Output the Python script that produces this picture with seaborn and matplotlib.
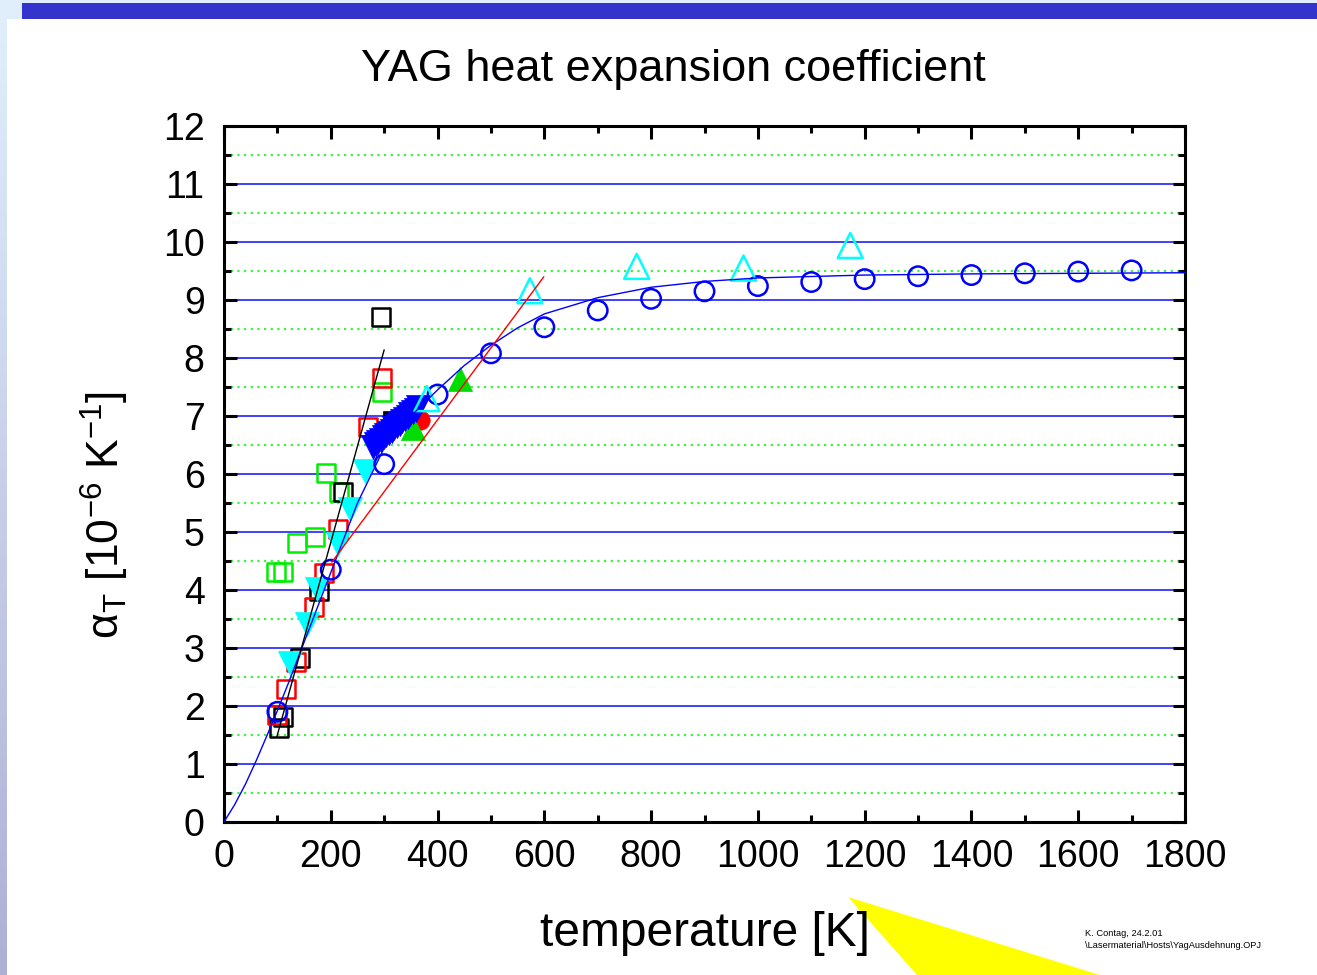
import numpy as np
import pandas as pd
import matplotlib
matplotlib.use("Agg")
import matplotlib.pyplot as plt
from matplotlib.patches import Polygon, Rectangle
from matplotlib.ticker import MultipleLocator
import seaborn as sns

# ---------------- data ----------------
circ_T = [100, 200, 300, 400, 500, 600, 700, 800, 900, 1000, 1100, 1200, 1300, 1400, 1500, 1600, 1700]
circ_a = [1.9, 4.35, 6.17, 7.37, 8.08, 8.53, 8.82, 9.02, 9.15, 9.24, 9.31, 9.36, 9.41, 9.43, 9.46, 9.49, 9.51]

tri_open_T = [380, 573, 773, 973, 1173]
tri_open_a = [7.30, 9.16, 9.58, 9.55, 9.94]

sq_green_T = [97, 111, 137, 170, 191, 215, 296]
sq_green_a = [4.31, 4.31, 4.81, 4.91, 6.02, 5.69, 7.41]

sq_red_T = [99, 116, 135, 169, 188, 214, 270, 296]
sq_red_a = [1.84, 2.29, 2.76, 3.71, 4.29, 5.05, 6.81, 7.65]

sq_black_T = [103, 110, 142, 178, 223, 294]
sq_black_a = [1.62, 1.81, 2.83, 3.98, 5.69, 8.71]

tri_cyan_T = [124, 155, 174, 213, 236, 264]
tri_cyan_a = [2.75, 3.41, 4.02, 4.80, 5.39, 6.06]

tri_blue_T = [279, 284, 289, 294, 299, 304, 309, 314, 319, 324, 329, 334, 339, 344, 349, 354, 359, 364]
tri_blue_a = [6.47, 6.51, 6.55, 6.59, 6.63, 6.67, 6.71, 6.75, 6.79, 6.83, 6.87, 6.91, 6.95, 6.99, 7.03, 7.07, 7.11, 7.16]

sq_black_fill_T = [315]
sq_black_fill_a = [6.93]

circ_red_fill_T = [367]
circ_red_fill_a = [6.93]

tri_green_fill_T = [354, 442]
tri_green_fill_a = [6.80, 7.63]

fit_blue_T = [0, 20, 40, 60, 80, 100, 120, 150, 200, 250, 300, 350, 400, 450, 500, 550, 600,
              700, 800, 900, 1000, 1200, 1400, 1600, 1800]
fit_blue_a = [0, 0.30, 0.65, 1.05, 1.48, 1.92, 2.38, 3.10, 4.30, 5.50, 6.45, 7.00, 7.45, 7.87, 8.22,
              8.52, 8.76, 9.04, 9.22, 9.32, 9.38, 9.43, 9.45, 9.46, 9.47]

fit_red_T = [202, 599]
fit_red_a = [4.48, 9.40]

fit_black_T = [99, 300]
fit_black_a = [1.47, 8.14]

title = "YAG heat expansion coefficient"
xlabel = "temperature [K]"
ylabel = "α$_{\\mathrm{T}}$ [10$^{\\mathrm{-6}}$ K$^{\\mathrm{-1}}$]"
note1 = "K. Contag, 24.2.01"
note2 = "\\Lasermaterial\\Hosts\\YagAusdehnung.OPJ"

# ---------------- style ----------------
sns.set_style("white")
plt.rcParams["font.family"] = ["Liberation Sans", "DejaVu Sans"]
plt.rcParams["mathtext.fontset"] = "custom"
plt.rcParams["mathtext.rm"] = "Liberation Sans"
plt.rcParams["mathtext.it"] = "Liberation Sans:italic"
plt.rcParams["mathtext.bf"] = "Liberation Sans:bold"
plt.rcParams["text.color"] = "black"
plt.rcParams["axes.labelcolor"] = "black"
plt.rcParams["xtick.color"] = "black"
plt.rcParams["ytick.color"] = "black"
plt.rcParams["xtick.labelcolor"] = "black"
plt.rcParams["ytick.labelcolor"] = "black"

W, H = 1317, 975
fig = plt.figure(figsize=(W / 100, H / 100), dpi=100)
fig.patch.set_facecolor("white")

# slide decorations
fig.add_artist(Rectangle((0, 1 - 19 / H), 1, 19 / H, transform=fig.transFigure,
                         facecolor="#e0eefc", edgecolor="none", zorder=-3))
fig.add_artist(Rectangle((22 / W, 1 - 19 / H), 1, 16 / H, transform=fig.transFigure,
                         facecolor="#3434cc", edgecolor="none", zorder=-2))
strip = fig.add_axes([0, 0, 7 / W, 1 - 19 / H])
grad = np.linspace(0, 1, 256).reshape(-1, 1)
top_c = np.array([0xe0, 0xee, 0xfc]) / 255
bot_c = np.array([0xae, 0xb0, 0xd4]) / 255
img = top_c[None, None, :] * (1 - grad[:, :, None]) + bot_c[None, None, :] * grad[:, :, None]
strip.imshow(img, aspect="auto", extent=[0, 1, 0, 1])
strip.set_axis_off()
fig.add_artist(Polygon([(848 / W, 1 - 897 / H), (917 / W, 0), (1100 / W, 0)],
                       closed=True, transform=fig.transFigure,
                       facecolor="#ffff00", edgecolor="none", zorder=-1))

ax = fig.add_axes([224 / W, 1 - 822 / H, (1185 - 224) / W, (822 - 126) / H])

# grid
ax.yaxis.set_major_locator(MultipleLocator(1))
ax.yaxis.set_minor_locator(MultipleLocator(0.5))
ax.xaxis.set_major_locator(MultipleLocator(200))
ax.xaxis.set_minor_locator(MultipleLocator(100))
ax.grid(False)
ax.set_axisbelow(True)
ax.yaxis.grid(True, which="major", color="#2020ff", lw=1.2, ls="-")
ax.yaxis.grid(True, which="minor", color="#44ee44", lw=1.6, ls=(0, (1, 2.0)))

lw_m = 1.8
def open_pts(T, a, marker, color, s):
    sns.scatterplot(x=T, y=a, marker=marker, s=s, facecolor="none", edgecolor=color,
                    linewidth=lw_m, ax=ax, zorder=3, legend=False)

def fill_pts(T, a, marker, color, s):
    sns.scatterplot(x=T, y=a, marker=marker, s=s, color=color, edgecolor=color,
                    linewidth=0.5, ax=ax, zorder=3, legend=False)

open_pts(sq_green_T, sq_green_a, "s", "#00ee00", 169)
open_pts(sq_black_T, sq_black_a, "s", "black", 169)
open_pts(sq_red_T, sq_red_a, "s", "#ff0000", 169)
fill_pts(tri_cyan_T, tri_cyan_a, "v", "#00ffff", 300)
fill_pts(sq_black_fill_T, sq_black_fill_a, "s", "black", 169)
fill_pts(circ_red_fill_T, circ_red_fill_a, "o", "#ff0000", 196)
fill_pts(tri_green_fill_T, tri_green_fill_a, "^", "#00dd00", 300)
open_pts(circ_T, circ_a, "o", "#0000ff", 196)
fill_pts(tri_blue_T, tri_blue_a, "v", "#0000ff", 300)
open_pts(tri_open_T, tri_open_a, "^", "#00ffff", 324)

sns.lineplot(x=fit_blue_T, y=fit_blue_a, color="#0000ff", lw=1.0, ax=ax, zorder=4)
sns.lineplot(x=fit_red_T, y=fit_red_a, color="#ff0000", lw=1.0, ax=ax, zorder=4)
sns.lineplot(x=fit_black_T, y=fit_black_a, color="black", lw=1.0, ax=ax, zorder=4)

ax.set_xlim(0, 1800)
ax.set_ylim(0, 12)
for sp in ax.spines.values():
    sp.set_visible(True)
    sp.set_color("black")
    sp.set_linewidth(2.2)
ax.tick_params(which="both", direction="in", top=True, right=True, bottom=True, left=True,
               color="black", labelcolor="black", width=2.2)
ax.tick_params(which="major", length=9, labelsize=27, pad=12)
ax.tick_params(which="minor", length=5)
ax.tick_params(axis="y", which="major", pad=14)

ax.set_xlabel(xlabel, fontsize=34.5, color="black")
ax.xaxis.set_label_coords(0.5, (822 - 946) / 696)
ax.xaxis.label.set_va("baseline")
ax.set_ylabel(ylabel, fontsize=32, color="black")
ax.yaxis.set_label_coords((105 - 224) / 961, (822 - 515) / 696)
ax.yaxis.label.set_va("center")
ax.yaxis.label.set_ha("center")

fig.suptitle(title, x=673 / W, y=1 - 70 / H, va="center", ha="center", fontsize=32.5, color="black")
fig.text(1085 / W, 1 - 933 / H, note1, fontsize=6.7, va="center", ha="left", color="black")
fig.text(1085 / W, 1 - 945 / H, note2, fontsize=6.7, va="center", ha="left", color="black")

fig.savefig("out.png", dpi=100)
